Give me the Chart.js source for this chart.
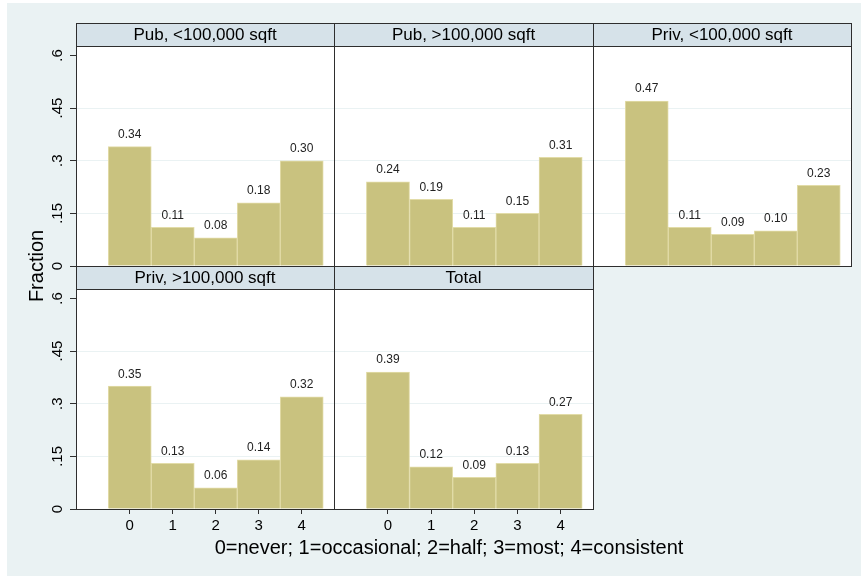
<!DOCTYPE html>
<html>
<head>
<meta charset="utf-8">
<script src="https://cdn.jsdelivr.net/npm/chart.js@4.4.0/dist/chart.umd.min.js"></script>
<style>
  body { margin: 0; background: #ffffff; }
  #page { position: relative; width: 861px; height: 576px; overflow: hidden; }
  #bg { position: absolute; left: 7px; top: 3px; right: 0; bottom: 0; background: #eaf2f3; }
  canvas { position: absolute; left: 0; top: 0; }
  .axtitle { position: absolute; font-family: "Liberation Sans", Arial, sans-serif; font-size: 20px; line-height: 20px; color: #000; white-space: nowrap; text-align: center; }
  #ytitle { left: -14px; top: 256px; width: 100px; transform: rotate(-90deg); }
  #xtitle { left: 149px; top: 537px; width: 600px; }
</style>
</head>
<body>
<div id="page">
  <div id="bg"></div>
  <canvas id="p0" width="861" height="576"></canvas>
  <canvas id="p1" width="861" height="576"></canvas>
  <canvas id="p2" width="861" height="576"></canvas>
  <canvas id="p3" width="861" height="576"></canvas>
  <canvas id="p4" width="861" height="576"></canvas>
  <div class="axtitle" id="ytitle">Fraction</div>
  <div class="axtitle" id="xtitle">0=never; 1=occasional; 2=half; 3=most; 4=consistent</div>
</div>
<script>
// data
const categories = [0, 1, 2, 3, 4];
const panelTitles = ['Pub, <100,000 sqft', 'Pub, >100,000 sqft', 'Priv, <100,000 sqft', 'Priv, >100,000 sqft', 'Total'];
const pubSmall = [0.34, 0.11, 0.08, 0.18, 0.30];
const pubLarge = [0.24, 0.19, 0.11, 0.15, 0.31];
const privSmall = [0.47, 0.11, 0.09, 0.10, 0.23];
const privLarge = [0.35, 0.13, 0.06, 0.14, 0.32];
const total = [0.39, 0.12, 0.09, 0.13, 0.27];
const yTicks = [0, 0.15, 0.3, 0.45, 0.6];
const yTickLabels = ['0', '.15', '.3', '.45', '.6'];

const FONT = '"Liberation Sans", Arial, sans-serif';
const barFill = '#c9c27f';
const barEdge = '#e2dca8';
const gridColor = '#eaf2f3';
const lineColor = '#2e2e2e';
const stripColor = '#d6e2e9';
const stripH = 23;

// plot rectangles
const colLeft = [76, 334, 593];
const colRight = [334, 593, 851];
const rowTop = [46, 289];
const rowBottom = [266, 509];
const xAxisH = 29;
const yAxisW = 6;

const panelDecor = {
    id: 'panelDecor',
    beforeDraw(chart) {
        const a = chart.chartArea;
        const ctx = chart.ctx;
        ctx.save();
        ctx.fillStyle = '#ffffff';
        ctx.fillRect(a.left, a.top, a.right - a.left, a.bottom - a.top);
        ctx.restore();
    },
    afterDraw(chart, args, opts) {
        const a = chart.chartArea;
        const ctx = chart.ctx;
        const hTop = a.top - stripH;
        ctx.save();
        // header strip
        ctx.fillStyle = stripColor;
        ctx.fillRect(a.left, hTop, a.right - a.left, stripH);
        ctx.strokeStyle = lineColor;
        ctx.lineWidth = 1;
        ctx.strokeRect(a.left + 0.5, hTop + 0.5, a.right - a.left, a.bottom - hTop);
        ctx.beginPath();
        ctx.moveTo(a.left, a.top + 0.5);
        ctx.lineTo(a.right + 1, a.top + 0.5);
        ctx.stroke();
        ctx.fillStyle = '#000';
        ctx.font = '17px ' + FONT;
        ctx.textAlign = 'center';
        ctx.textBaseline = 'middle';
        ctx.fillText(opts.title, (a.left + a.right) / 2, hTop + stripH / 2 + 1);

        // value labels above bars
        const meta = chart.getDatasetMeta(0);
        const vals = chart.data.datasets[0].data;
        ctx.font = '12px ' + FONT;
        ctx.fillStyle = '#222';
        ctx.textBaseline = 'bottom';
        meta.data.forEach((bar, i) => {
            ctx.fillText(vals[i].y.toFixed(2), bar.x, bar.y - 6);
        });

        // rotated y tick labels
        if (opts.yLabels) {
            const s = chart.scales.y;
            ctx.font = '15px ' + FONT;
            ctx.fillStyle = '#000';
            ctx.textBaseline = 'alphabetic';
            yTicks.forEach((v, i) => {
                ctx.save();
                ctx.translate(a.left - yAxisW - 8, s.getPixelForValue(v));
                ctx.rotate(-Math.PI / 2);
                ctx.fillText(yTickLabels[i], 0, 0);
                ctx.restore();
            });
        }
        ctx.restore();
    }
};

function makePanel(id, title, values, col, row) {
    const showX = row === 1;
    const showY = col === 0;
    const L = colLeft[col], R = colRight[col], T = rowTop[row], B = rowBottom[row];
    const xh = showX ? xAxisH : 0;
    const yw = showY ? yAxisW : 0;
    const ctx = document.getElementById(id);
    new Chart(ctx, {
        type: 'bar',
        plugins: [panelDecor],
        data: {
            datasets: [{
                data: values.map((v, i) => ({ x: categories[i], y: v })),
                backgroundColor: barFill,
                borderColor: barEdge,
                borderWidth: 1,
                barPercentage: 1,
                categoryPercentage: 1
            }]
        },
        options: {
            responsive: false,
            animation: false,
            devicePixelRatio: 1,
            layout: { padding: { left: L - yw, right: 861 - R, top: T, bottom: 576 - B - xh } },
            plugins: {
                legend: { display: false },
                tooltip: { enabled: false },
                panelDecor: { title: title, yLabels: showY }
            },
            scales: {
                x: {
                    type: 'linear',
                    min: -1.25,
                    max: 4.75,
                    offset: false,
                    afterBuildTicks: s => { s.ticks = categories.map(v => ({ value: v })); },
                    afterFit: s => { s.height = xh; },
                    grid: { display: showX, drawOnChartArea: false, drawTicks: showX, tickLength: 5, tickColor: lineColor, offset: false },
                    border: { display: false },
                    ticks: { display: showX, padding: 3, color: '#000', font: { family: FONT, size: 15 } }
                },
                y: {
                    min: 0,
                    max: 0.627,
                    afterBuildTicks: s => { s.ticks = yTicks.map(v => ({ value: v })); },
                    afterFit: s => { s.width = yw; },
                    grid: {
                        color: c => (c.tick && (c.tick.value === 0 || c.tick.value === 0.6)) ? 'rgba(0,0,0,0)' : gridColor,
                        drawTicks: showY,
                        tickLength: 6,
                        tickColor: lineColor
                    },
                    border: { display: false },
                    ticks: { display: false }
                }
            }
        }
    });
}

makePanel('p0', panelTitles[0], pubSmall, 0, 0);
makePanel('p1', panelTitles[1], pubLarge, 1, 0);
makePanel('p2', panelTitles[2], privSmall, 2, 0);
makePanel('p3', panelTitles[3], privLarge, 0, 1);
makePanel('p4', panelTitles[4], total, 1, 1);
</script>
</body>
</html>
